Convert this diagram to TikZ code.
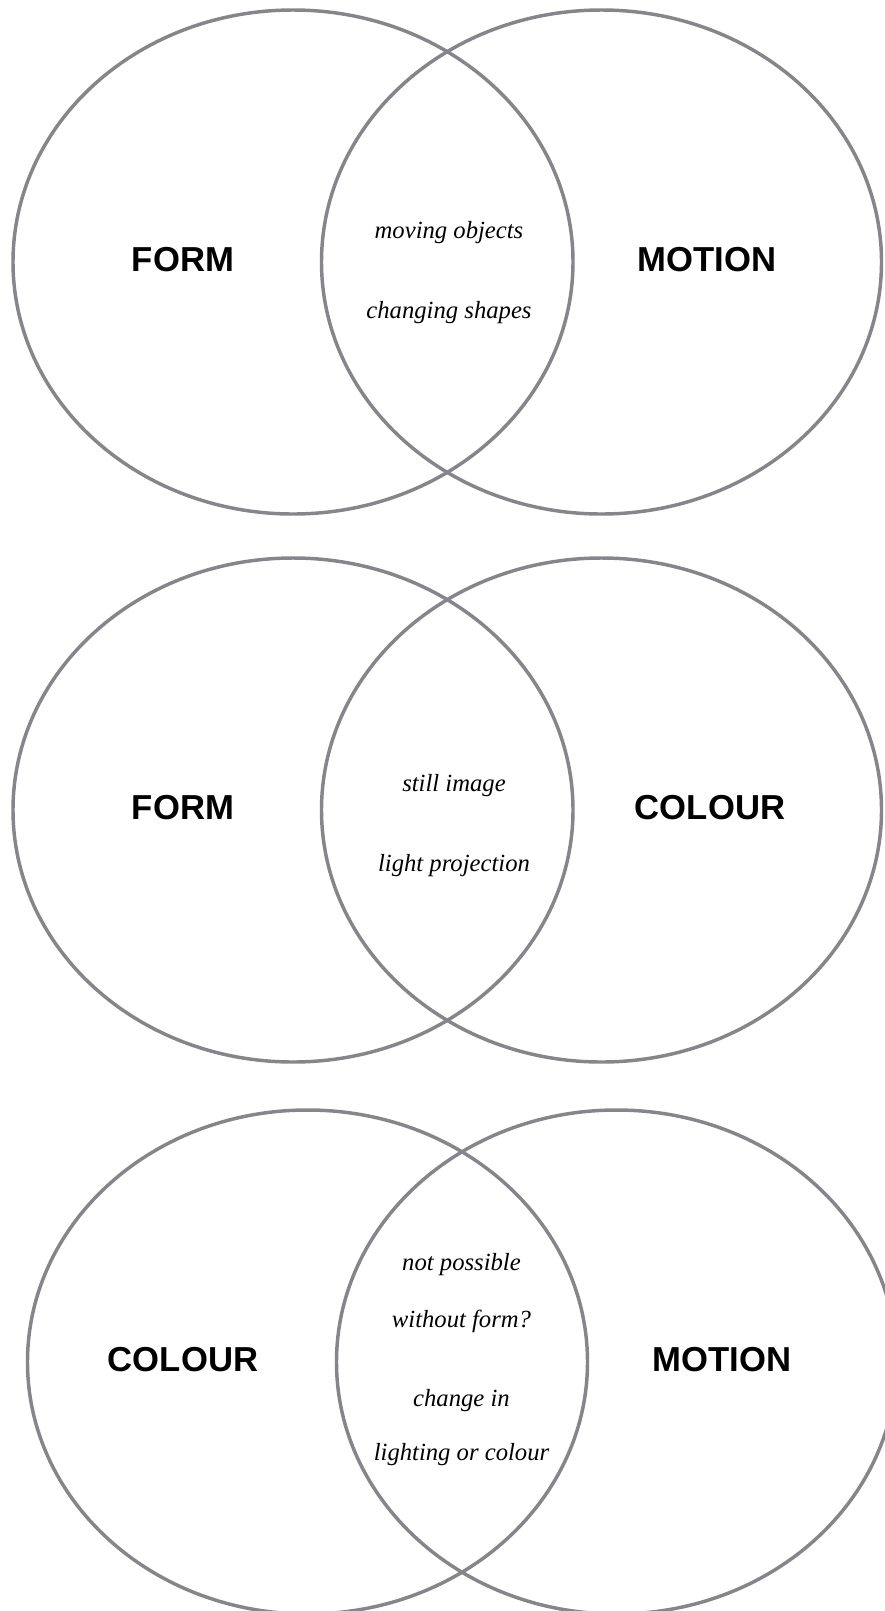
\documentclass[tikz,border=0pt]{standalone}
\usepackage{fontspec}
\usepackage{xcolor}
\usepackage{tikz}
\usetikzlibrary{positioning}
\newfontfamily\setfont{Liberation Sans}
\newfontfamily\notefont{Liberation Serif}
\definecolor{ringgray}{HTML}{85858B}
\tikzset{
  ring/.style={draw=ringgray,line width=2.6pt},
  setlbl/.style={font=\setfont\bfseries\fontsize{26}{30}\selectfont,inner sep=0pt},
  notelbl/.style={font=\notefont\itshape\fontsize{18.5}{22}\selectfont,inner sep=0pt}
}
\begin{document}
\begin{tikzpicture}[x=0.75pt,y=-0.75pt]
\useasboundingbox (0,0) rectangle (885,1611);
\clip (0,0) rectangle (885,1611);
\def\rx{280}
\def\ry{252}
% form / motion
\draw[ring] (293,262) ellipse [x radius=\rx,y radius=\ry];
\draw[ring] (601.5,262) ellipse [x radius=\rx,y radius=\ry];
\node[setlbl] (fm-a) at (183,260) {FORM};
\node[setlbl] (fm-b) at (707,260) {MOTION};
\node[notelbl] (fm-1) at (449,233) {moving objects};
\node[notelbl,below=60pt of fm-1.center,anchor=center] (fm-2) {changing shapes};
% form / colour
\draw[ring] (293,810) ellipse [x radius=\rx,y radius=\ry];
\draw[ring] (601.5,810) ellipse [x radius=\rx,y radius=\ry];
\node[setlbl] (fc-a) at (183,808) {FORM};
\node[setlbl] (fc-b) at (710,808) {COLOUR};
\node[notelbl] (fc-1) at (454,786) {still image};
\node[notelbl,below=60pt of fc-1.center,anchor=center] (fc-2) {light projection};
% colour / motion
\draw[ring] (307.5,1362) ellipse [x radius=\rx,y radius=\ry];
\draw[ring] (616.5,1362) ellipse [x radius=\rx,y radius=\ry];
\node[setlbl] (cm-a) at (183,1360) {COLOUR};
\node[setlbl] (cm-b) at (722,1360) {MOTION};
\node[notelbl] (cm-1) at (461.5,1265) {not possible};
\node[notelbl] (cm-2) at (461.5,1321) {without form?};
\node[notelbl] (cm-3) at (461.5,1401) {change in};
\node[notelbl] (cm-4) at (461.5,1455) {lighting or colour};
\end{tikzpicture}
\end{document}
